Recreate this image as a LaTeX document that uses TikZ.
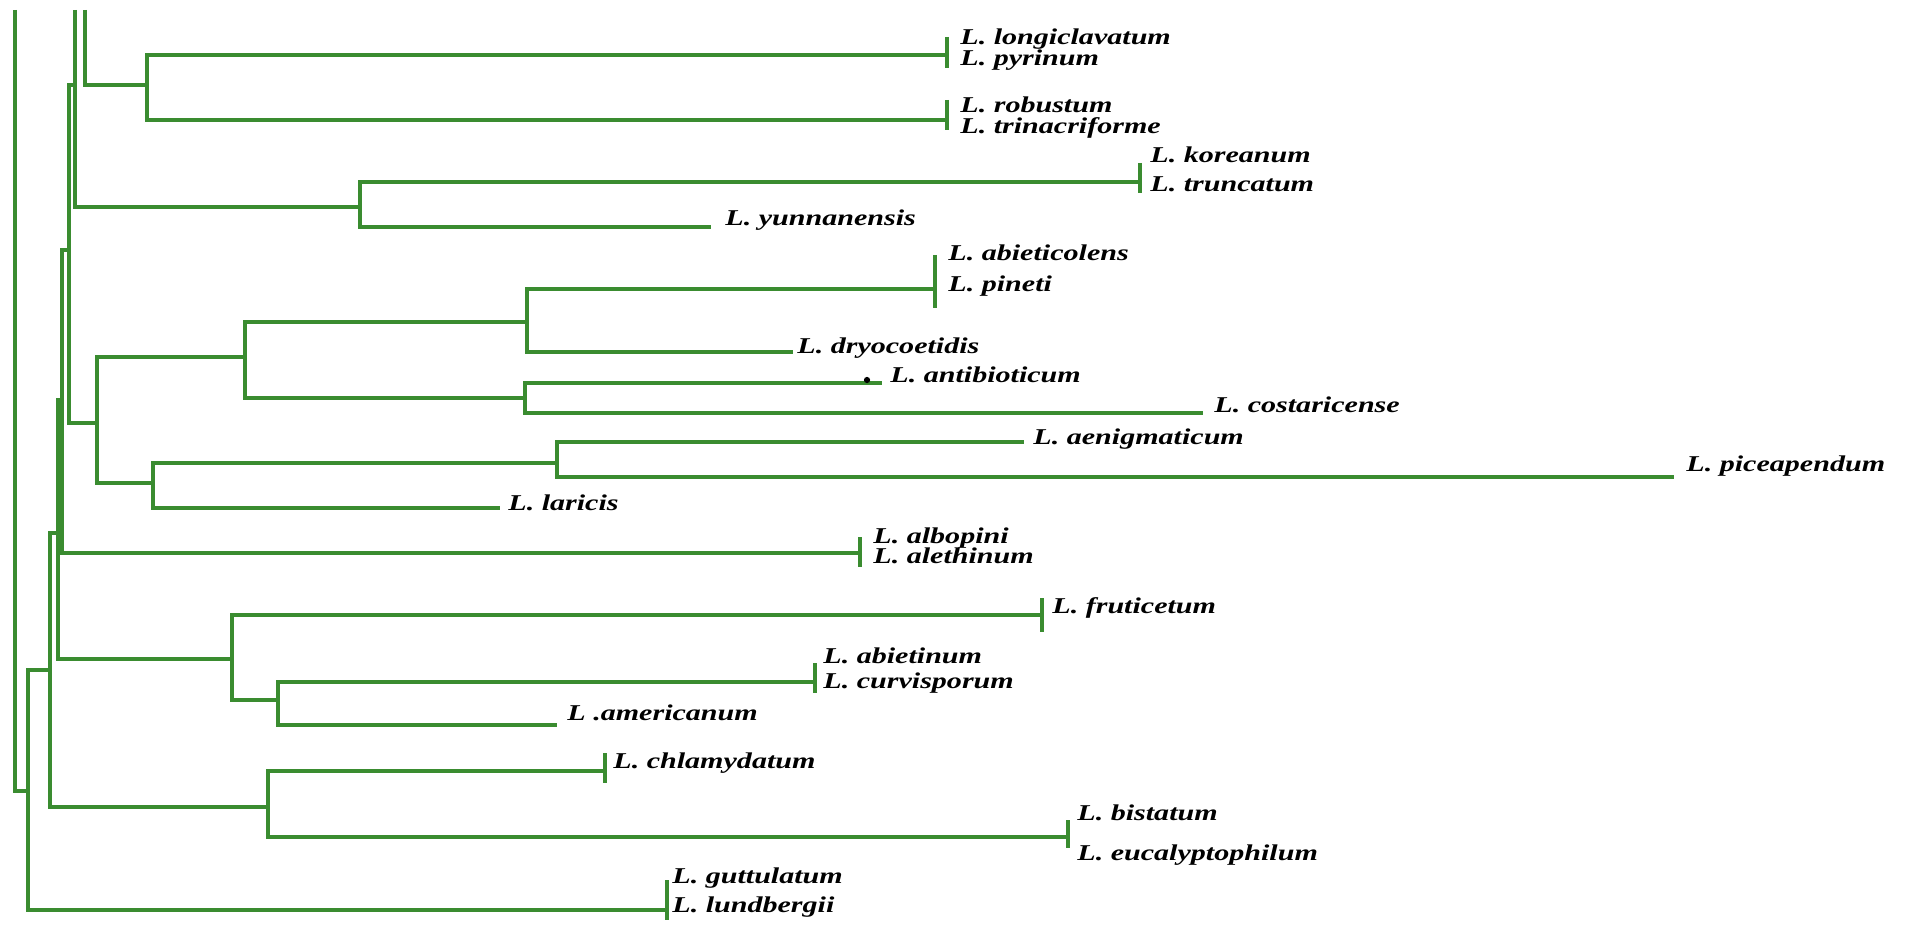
\documentclass[tikz,border=0pt]{standalone}
\usepackage{fontspec}
\setmainfont{Liberation Serif}
\definecolor{branch}{RGB}{58,140,48}
\newcommand\taxname[1]{\scalebox{1.33}[1]{#1}}
\begin{document}
\begin{tikzpicture}[x=0.5pt,y=-0.5pt,
  edge/.style={draw=branch,line width=2.2pt,line cap=butt,line join=miter},
  tipbar/.style={draw=branch,line width=1.7pt},
  taxon/.style={anchor=base west,inner sep=0pt,
    font=\fontsize{11.3}{13}\selectfont\bfseries\itshape}]
\useasboundingbox (0,0) rectangle (1905,925);

% ---- backbone coordinates
\coordinate (topA) at (15,10);
\coordinate (kA) at (28,791);
\coordinate (hTop) at (50,670);
\coordinate (hCorner) at (28,670);
\coordinate (fTop) at (58,533);
\coordinate (fCorner) at (50,533);
\coordinate (gTop) at (62,400);
\coordinate (gCorner) at (58,400);
\coordinate (eTop) at (69,250);
\coordinate (eCorner) at (62,250);
\coordinate (dTop) at (75,85);
\coordinate (dCorner) at (69,85);
\coordinate (topB) at (75,10);
\coordinate (topC) at (85,10);

% ---- internal nodes (attachment points)
\coordinate (n147) at (147,85);
\coordinate (n360) at (360,207);
\coordinate (n97)  at (97,423);
\coordinate (n245) at (245,357);
\coordinate (n527) at (527,322);
\coordinate (n525) at (525,398);
\coordinate (n153) at (153,483);
\coordinate (n557) at (557,463);
\coordinate (n232) at (232,659);
\coordinate (n278) at (278,700);
\coordinate (n268) at (268,807);

% ---- tips
\coordinate (tLongi) at (947,55);
\coordinate (tRobu)  at (947,120);
\coordinate (tKore)  at (1140,182);
\coordinate (tYunn)  at (711,227);
\coordinate (tAbie)  at (935,289);
\coordinate (tDryo)  at (793,352);
\coordinate (tAnti)  at (882,383);
\coordinate (tCost)  at (1203,413);
\coordinate (tAeni)  at (1024,442);
\coordinate (tPice)  at (1674,477);
\coordinate (tLari)  at (500,508);
\coordinate (tAlbo)  at (860,553);
\coordinate (tFrut)  at (1042,615);
\coordinate (tAbit)  at (815,682);
\coordinate (tAmer)  at (557,725);
\coordinate (tChla)  at (605,771);
\coordinate (tBist)  at (1068,837);
\coordinate (tGutt)  at (667,910);

% ---- backbone
\draw[edge] (topA) |- (kA);
\draw[edge] (hTop) -- (hCorner) |- (tGutt);
\draw[edge] (fTop) -- (fCorner) |- (n268);
\draw[edge] (gTop) -- (gCorner) |- (n232);
\draw[edge] (eTop) -- (eCorner) |- (tAlbo);
\draw[edge] (dTop) -- (dCorner) |- (n97);
\draw[edge] (topB) |- (n360);
\draw[edge] (topC) |- (n147);

% ---- clades
\draw[edge] (n147) |- (tLongi);
\draw[edge] (n147) |- (tRobu);
\draw[edge] (n360) |- (tKore);
\draw[edge] (n360) |- (tYunn);
\draw[edge] (n97) |- (n245);
\draw[edge] (n97) |- (n153);
\draw[edge] (n245) |- (n527);
\draw[edge] (n245) |- (n525);
\draw[edge] (n527) |- (tAbie);
\draw[edge] (n527) |- (tDryo);
\draw[edge] (n525) |- (tAnti);
\draw[edge] (n525) |- (tCost);
\draw[edge] (n153) |- (n557);
\draw[edge] (n153) |- (tLari);
\draw[edge] (n557) |- (tAeni);
\draw[edge] (n557) |- (tPice);
\draw[edge] (n232) |- (tFrut);
\draw[edge] (n232) |- (n278);
\draw[edge] (n278) |- (tAbit);
\draw[edge] (n278) |- (tAmer);
\draw[edge] (n268) |- (tChla);
\draw[edge] (n268) |- (tBist);

% ---- short bars closing the collapsed tips
\draw[tipbar] (tLongi) ++(0,-18) -- ++(0,31);
\draw[tipbar] (tRobu) ++(0,-20) -- ++(0,30);
\draw[tipbar] (tKore) ++(0,-19) -- ++(0,30);
\draw[tipbar] (tAbie) ++(0,-34) -- ++(0,53);
\draw[tipbar] (tAlbo) ++(0,-16) -- ++(0,30);
\draw[tipbar] (tFrut) ++(0,-17) -- ++(0,34);
\draw[tipbar] (tAbit) ++(0,-19) -- ++(0,30);
\draw[tipbar] (tChla) ++(0,-18) -- ++(0,30);
\draw[tipbar] (tBist) ++(0,-17) -- ++(0,28);
\draw[tipbar] (tGutt) ++(0,-30) -- ++(0,40);

\node[circle,fill=black,inner sep=1.1pt] (speck) at (867,380) {};

% ---- taxon labels
\node[taxon] (lLongi) at (960,45)  {\taxname{L. longiclavatum}};
\node[taxon] (lPyri)  at (960,66)  {\taxname{L. pyrinum}};
\node[taxon] (lRobu)  at (960,113) {\taxname{L. robustum}};
\node[taxon] (lTrin)  at (960,134) {\taxname{L. trinacriforme}};
\node[taxon] (lKore)  at (1150,163) {\taxname{L. koreanum}};
\node[taxon] (lTrun)  at (1150,192) {\taxname{L. truncatum}};
\node[taxon] (lYunn)  at (725,226) {\taxname{L. yunnanensis}};
\node[taxon] (lAbie)  at (948,261) {\taxname{L. abieticolens}};
\node[taxon] (lPine)  at (948,292) {\taxname{L. pineti}};
\node[taxon] (lDryo)  at (797,353) {\taxname{L. dryocoetidis}};
\node[taxon] (lAnti)  at (890,382) {\taxname{L. antibioticum}};
\node[taxon] (lCost)  at (1214,412) {\taxname{L. costaricense}};
\node[taxon] (lAeni)  at (1033,444) {\taxname{L. aenigmaticum}};
\node[taxon] (lPice)  at (1686,471) {\taxname{L. piceapendum}};
\node[taxon] (lLari)  at (508,510) {\taxname{L. laricis}};
\node[taxon] (lAlbo)  at (873,543) {\taxname{L. albopini}};
\node[taxon] (lAlet)  at (873,563) {\taxname{L. alethinum}};
\node[taxon] (lFrut)  at (1052,613) {\taxname{L. fruticetum}};
\node[taxon] (lAbit)  at (823,663) {\taxname{L. abietinum}};
\node[taxon] (lCurv)  at (823,688) {\taxname{L. curvisporum}};
\node[taxon] (lAmer)  at (567,720) {\taxname{L .americanum}};
\node[taxon] (lChla)  at (613,768) {\taxname{L. chlamydatum}};
\node[taxon] (lBist)  at (1077,820) {\taxname{L. bistatum}};
\node[taxon] (lEuca)  at (1077,860) {\taxname{L. eucalyptophilum}};
\node[taxon] (lGutt)  at (672,883) {\taxname{L. guttulatum}};
\node[taxon] (lLund)  at (672,912) {\taxname{L. lundbergii}};
\end{tikzpicture}
\end{document}
